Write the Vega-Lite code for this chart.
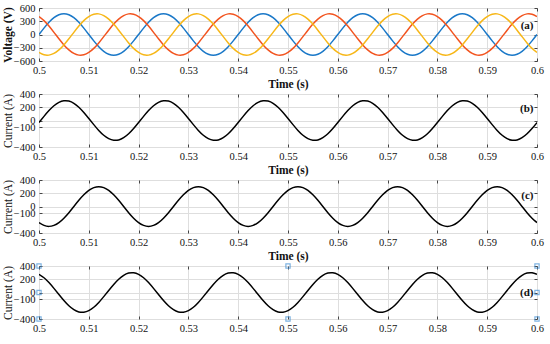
{
  "$schema": "https://vega.github.io/schema/vega-lite/v6.json",
  "padding": {"left": 1, "top": 2, "right": 4, "bottom": 0},
  "background": "white",
  "datasets": {
    "w": [
      {"t":0.5,"va":0,"vb":407,"vc":-407,"ib":-31,"ic":-243,"id":274},
      {"t":0.501,"va":145,"vb":315,"vc":-460,"ib":62,"ic":-285,"id":223},
      {"t":0.502,"va":276,"vb":191,"vc":-467,"ib":150,"ic":-300,"id":150},
      {"t":0.503,"va":380,"vb":49,"vc":-429,"ib":223,"ic":-285,"id":62},
      {"t":0.504,"va":447,"vb":-98,"vc":-349,"ib":274,"ic":-243,"id":-31},
      {"t":0.505,"va":470,"vb":-235,"vc":-235,"ib":298,"ic":-176,"id":-122},
      {"t":0.506,"va":447,"vb":-349,"vc":-98,"ib":293,"ic":-93,"id":-201},
      {"t":0.507,"va":380,"vb":-429,"vc":49,"ib":260,"ic":0,"id":-260},
      {"t":0.508,"va":276,"vb":-467,"vc":191,"ib":201,"ic":93,"id":-293},
      {"t":0.509,"va":145,"vb":-460,"vc":315,"ib":122,"ic":176,"id":-298},
      {"t":0.51,"va":0,"vb":-407,"vc":407,"ib":31,"ic":243,"id":-274},
      {"t":0.511,"va":-145,"vb":-315,"vc":460,"ib":-62,"ic":285,"id":-223},
      {"t":0.512,"va":-276,"vb":-191,"vc":467,"ib":-150,"ic":300,"id":-150},
      {"t":0.513,"va":-380,"vb":-49,"vc":429,"ib":-223,"ic":285,"id":-62},
      {"t":0.514,"va":-447,"vb":98,"vc":349,"ib":-274,"ic":243,"id":31},
      {"t":0.515,"va":-470,"vb":235,"vc":235,"ib":-298,"ic":176,"id":122},
      {"t":0.516,"va":-447,"vb":349,"vc":98,"ib":-293,"ic":93,"id":201},
      {"t":0.517,"va":-380,"vb":429,"vc":-49,"ib":-260,"ic":0,"id":260},
      {"t":0.518,"va":-276,"vb":467,"vc":-191,"ib":-201,"ic":-93,"id":293},
      {"t":0.519,"va":-145,"vb":460,"vc":-315,"ib":-122,"ic":-176,"id":298},
      {"t":0.52,"va":0,"vb":407,"vc":-407,"ib":-31,"ic":-243,"id":274},
      {"t":0.521,"va":145,"vb":315,"vc":-460,"ib":62,"ic":-285,"id":223},
      {"t":0.522,"va":276,"vb":191,"vc":-467,"ib":150,"ic":-300,"id":150},
      {"t":0.523,"va":380,"vb":49,"vc":-429,"ib":223,"ic":-285,"id":62},
      {"t":0.524,"va":447,"vb":-98,"vc":-349,"ib":274,"ic":-243,"id":-31},
      {"t":0.525,"va":470,"vb":-235,"vc":-235,"ib":298,"ic":-176,"id":-122},
      {"t":0.526,"va":447,"vb":-349,"vc":-98,"ib":293,"ic":-93,"id":-201},
      {"t":0.527,"va":380,"vb":-429,"vc":49,"ib":260,"ic":0,"id":-260},
      {"t":0.528,"va":276,"vb":-467,"vc":191,"ib":201,"ic":93,"id":-293},
      {"t":0.529,"va":145,"vb":-460,"vc":315,"ib":122,"ic":176,"id":-298},
      {"t":0.53,"va":0,"vb":-407,"vc":407,"ib":31,"ic":243,"id":-274},
      {"t":0.531,"va":-145,"vb":-315,"vc":460,"ib":-62,"ic":285,"id":-223},
      {"t":0.532,"va":-276,"vb":-191,"vc":467,"ib":-150,"ic":300,"id":-150},
      {"t":0.533,"va":-380,"vb":-49,"vc":429,"ib":-223,"ic":285,"id":-62},
      {"t":0.534,"va":-447,"vb":98,"vc":349,"ib":-274,"ic":243,"id":31},
      {"t":0.535,"va":-470,"vb":235,"vc":235,"ib":-298,"ic":176,"id":122},
      {"t":0.536,"va":-447,"vb":349,"vc":98,"ib":-293,"ic":93,"id":201},
      {"t":0.537,"va":-380,"vb":429,"vc":-49,"ib":-260,"ic":0,"id":260},
      {"t":0.538,"va":-276,"vb":467,"vc":-191,"ib":-201,"ic":-93,"id":293},
      {"t":0.539,"va":-145,"vb":460,"vc":-315,"ib":-122,"ic":-176,"id":298},
      {"t":0.54,"va":0,"vb":407,"vc":-407,"ib":-31,"ic":-243,"id":274},
      {"t":0.541,"va":145,"vb":315,"vc":-460,"ib":62,"ic":-285,"id":223},
      {"t":0.542,"va":276,"vb":191,"vc":-467,"ib":150,"ic":-300,"id":150},
      {"t":0.543,"va":380,"vb":49,"vc":-429,"ib":223,"ic":-285,"id":62},
      {"t":0.544,"va":447,"vb":-98,"vc":-349,"ib":274,"ic":-243,"id":-31},
      {"t":0.545,"va":470,"vb":-235,"vc":-235,"ib":298,"ic":-176,"id":-122},
      {"t":0.546,"va":447,"vb":-349,"vc":-98,"ib":293,"ic":-93,"id":-201},
      {"t":0.547,"va":380,"vb":-429,"vc":49,"ib":260,"ic":0,"id":-260},
      {"t":0.548,"va":276,"vb":-467,"vc":191,"ib":201,"ic":93,"id":-293},
      {"t":0.549,"va":145,"vb":-460,"vc":315,"ib":122,"ic":176,"id":-298},
      {"t":0.55,"va":0,"vb":-407,"vc":407,"ib":31,"ic":243,"id":-274},
      {"t":0.551,"va":-145,"vb":-315,"vc":460,"ib":-62,"ic":285,"id":-223},
      {"t":0.552,"va":-276,"vb":-191,"vc":467,"ib":-150,"ic":300,"id":-150},
      {"t":0.553,"va":-380,"vb":-49,"vc":429,"ib":-223,"ic":285,"id":-62},
      {"t":0.554,"va":-447,"vb":98,"vc":349,"ib":-274,"ic":243,"id":31},
      {"t":0.555,"va":-470,"vb":235,"vc":235,"ib":-298,"ic":176,"id":122},
      {"t":0.556,"va":-447,"vb":349,"vc":98,"ib":-293,"ic":93,"id":201},
      {"t":0.557,"va":-380,"vb":429,"vc":-49,"ib":-260,"ic":0,"id":260},
      {"t":0.558,"va":-276,"vb":467,"vc":-191,"ib":-201,"ic":-93,"id":293},
      {"t":0.559,"va":-145,"vb":460,"vc":-315,"ib":-122,"ic":-176,"id":298},
      {"t":0.56,"va":0,"vb":407,"vc":-407,"ib":-31,"ic":-243,"id":274},
      {"t":0.561,"va":145,"vb":315,"vc":-460,"ib":62,"ic":-285,"id":223},
      {"t":0.562,"va":276,"vb":191,"vc":-467,"ib":150,"ic":-300,"id":150},
      {"t":0.563,"va":380,"vb":49,"vc":-429,"ib":223,"ic":-285,"id":62},
      {"t":0.564,"va":447,"vb":-98,"vc":-349,"ib":274,"ic":-243,"id":-31},
      {"t":0.565,"va":470,"vb":-235,"vc":-235,"ib":298,"ic":-176,"id":-122},
      {"t":0.566,"va":447,"vb":-349,"vc":-98,"ib":293,"ic":-93,"id":-201},
      {"t":0.567,"va":380,"vb":-429,"vc":49,"ib":260,"ic":0,"id":-260},
      {"t":0.568,"va":276,"vb":-467,"vc":191,"ib":201,"ic":93,"id":-293},
      {"t":0.569,"va":145,"vb":-460,"vc":315,"ib":122,"ic":176,"id":-298},
      {"t":0.57,"va":0,"vb":-407,"vc":407,"ib":31,"ic":243,"id":-274},
      {"t":0.571,"va":-145,"vb":-315,"vc":460,"ib":-62,"ic":285,"id":-223},
      {"t":0.572,"va":-276,"vb":-191,"vc":467,"ib":-150,"ic":300,"id":-150},
      {"t":0.573,"va":-380,"vb":-49,"vc":429,"ib":-223,"ic":285,"id":-62},
      {"t":0.574,"va":-447,"vb":98,"vc":349,"ib":-274,"ic":243,"id":31},
      {"t":0.575,"va":-470,"vb":235,"vc":235,"ib":-298,"ic":176,"id":122},
      {"t":0.576,"va":-447,"vb":349,"vc":98,"ib":-293,"ic":93,"id":201},
      {"t":0.577,"va":-380,"vb":429,"vc":-49,"ib":-260,"ic":0,"id":260},
      {"t":0.578,"va":-276,"vb":467,"vc":-191,"ib":-201,"ic":-93,"id":293},
      {"t":0.579,"va":-145,"vb":460,"vc":-315,"ib":-122,"ic":-176,"id":298},
      {"t":0.58,"va":0,"vb":407,"vc":-407,"ib":-31,"ic":-243,"id":274},
      {"t":0.581,"va":145,"vb":315,"vc":-460,"ib":62,"ic":-285,"id":223},
      {"t":0.582,"va":276,"vb":191,"vc":-467,"ib":150,"ic":-300,"id":150},
      {"t":0.583,"va":380,"vb":49,"vc":-429,"ib":223,"ic":-285,"id":62},
      {"t":0.584,"va":447,"vb":-98,"vc":-349,"ib":274,"ic":-243,"id":-31},
      {"t":0.585,"va":470,"vb":-235,"vc":-235,"ib":298,"ic":-176,"id":-122},
      {"t":0.586,"va":447,"vb":-349,"vc":-98,"ib":293,"ic":-93,"id":-201},
      {"t":0.587,"va":380,"vb":-429,"vc":49,"ib":260,"ic":0,"id":-260},
      {"t":0.588,"va":276,"vb":-467,"vc":191,"ib":201,"ic":93,"id":-293},
      {"t":0.589,"va":145,"vb":-460,"vc":315,"ib":122,"ic":176,"id":-298},
      {"t":0.59,"va":0,"vb":-407,"vc":407,"ib":31,"ic":243,"id":-274},
      {"t":0.591,"va":-145,"vb":-315,"vc":460,"ib":-62,"ic":285,"id":-223},
      {"t":0.592,"va":-276,"vb":-191,"vc":467,"ib":-150,"ic":300,"id":-150},
      {"t":0.593,"va":-380,"vb":-49,"vc":429,"ib":-223,"ic":285,"id":-62},
      {"t":0.594,"va":-447,"vb":98,"vc":349,"ib":-274,"ic":243,"id":31},
      {"t":0.595,"va":-470,"vb":235,"vc":235,"ib":-298,"ic":176,"id":122},
      {"t":0.596,"va":-447,"vb":349,"vc":98,"ib":-293,"ic":93,"id":201},
      {"t":0.597,"va":-380,"vb":429,"vc":-49,"ib":-260,"ic":0,"id":260},
      {"t":0.598,"va":-276,"vb":467,"vc":-191,"ib":-201,"ic":-93,"id":293},
      {"t":0.599,"va":-145,"vb":460,"vc":-315,"ib":-122,"ic":-176,"id":298},
      {"t":0.6,"va":0,"vb":407,"vc":-407,"ib":-31,"ic":-243,"id":274}
    ]
  },
  "vconcat": [
    {
      "width": 498, "height": 53,
      "layer": [
        {
          "data": {"name": "w"},
          "transform": [{"fold": ["va", "vb", "vc"], "as": ["phase", "v"]}],
          "mark": {"type": "line", "interpolate": "natural", "strokeWidth": 1.5, "clip": true},
          "encoding": {
            "x": {"field": "t", "type": "quantitative", "scale": {"domain": [0.5, 0.6], "nice": false, "zero": false},
                  "axis": {"orient": "bottom", "values": [0.5,0.51,0.52,0.53,0.54,0.55,0.56,0.57,0.58,0.59,0.6], "format": ".2~f", "grid": true, "title": "Time (s)"}},
            "y": {"field": "v", "type": "quantitative", "scale": {"domain": [-600, 600], "nice": false},
                  "axis": {"orient": "left", "values": [-600,-300,0,300,600], "format": "d", "grid": true, "title": "Voltage (V)", "titleFontWeight": "bold"}},
            "color": {"field": "phase", "type": "nominal", "scale": {"domain": ["va","vb","vc"], "range": ["#1a78c8", "#f2541f", "#f7b718"]}, "legend": null}
          }
        },
        {
          "data": {"values": [{"t": 0.5993, "v": 192, "label": "(a)"}]},
          "mark": {"type": "text", "align": "right", "baseline": "middle", "fontWeight": "bold", "fontSize": 11, "font": "Liberation Serif", "color": "#111"},
          "encoding": {
            "x": {"field": "t", "type": "quantitative", "scale": {"domain": [0.5, 0.6], "nice": false, "zero": false},
                  "axis": {"orient": "top", "values": [0.5,0.51,0.52,0.53,0.54,0.55,0.56,0.57,0.58,0.59,0.6], "labels": false, "title": null}},
            "y": {"field": "v", "type": "quantitative", "scale": {"domain": [-600, 600], "nice": false},
                  "axis": {"orient": "right", "values": [-600,-300,0,300,600], "labels": false, "title": null}},
            "text": {"field": "label"}
          }
        }
      ],
      "resolve": {"axis": {"x": "independent", "y": "independent"}}
    },
    {
      "width": 498, "height": 53,
      "layer": [
        {
          "data": {"name": "w"},
          "mark": {"type": "line", "interpolate": "natural", "strokeWidth": 1.5, "color": "#000", "clip": true},
          "encoding": {
            "x": {"field": "t", "type": "quantitative", "scale": {"domain": [0.5, 0.6], "nice": false, "zero": false},
                  "axis": {"orient": "bottom", "values": [0.5,0.51,0.52,0.53,0.54,0.55,0.56,0.57,0.58,0.59,0.6], "format": ".2~f", "title": "Time (s)"}},
            "y": {"field": "ib", "type": "quantitative", "scale": {"domain": [-400, 400], "nice": false},
                  "axis": {"orient": "left", "values": [-400,-100,0,200,400], "format": "d", "title": "Current (A)"}}
          }
        },
        {
          "data": {"values": [{"t": 0.5993, "v": 170, "label": "(b)"}]},
          "mark": {"type": "text", "align": "right", "baseline": "middle", "fontWeight": "bold", "fontSize": 11, "font": "Liberation Serif", "color": "#111"},
          "encoding": {
            "x": {"field": "t", "type": "quantitative", "scale": {"domain": [0.5, 0.6], "nice": false, "zero": false},
                  "axis": {"orient": "top", "values": [0.5,0.51,0.52,0.53,0.54,0.55,0.56,0.57,0.58,0.59,0.6], "labels": false, "title": null}},
            "y": {"field": "v", "type": "quantitative", "scale": {"domain": [-400, 400], "nice": false},
                  "axis": {"orient": "right", "values": [-400,-100,0,200,400], "labels": false, "title": null}},
            "text": {"field": "label"}
          }
        }
      ],
      "resolve": {"axis": {"x": "independent", "y": "independent"}}
    },
    {
      "width": 498, "height": 53,
      "layer": [
        {
          "data": {"name": "w"},
          "mark": {"type": "line", "interpolate": "natural", "strokeWidth": 1.5, "color": "#000", "clip": true},
          "encoding": {
            "x": {"field": "t", "type": "quantitative", "scale": {"domain": [0.5, 0.6], "nice": false, "zero": false},
                  "axis": {"orient": "bottom", "values": [0.5,0.51,0.52,0.53,0.54,0.55,0.56,0.57,0.58,0.59,0.6], "format": ".2~f", "title": "Time (s)"}},
            "y": {"field": "ic", "type": "quantitative", "scale": {"domain": [-400, 400], "nice": false},
                  "axis": {"orient": "left", "values": [-400,-100,0,200,400], "format": "d", "title": "Current (A)"}}
          }
        },
        {
          "data": {"values": [{"t": 0.5993, "v": 158, "label": "(c)"}]},
          "mark": {"type": "text", "align": "right", "baseline": "middle", "fontWeight": "bold", "fontSize": 11, "font": "Liberation Serif", "color": "#111"},
          "encoding": {
            "x": {"field": "t", "type": "quantitative", "scale": {"domain": [0.5, 0.6], "nice": false, "zero": false},
                  "axis": {"orient": "top", "values": [0.5,0.51,0.52,0.53,0.54,0.55,0.56,0.57,0.58,0.59,0.6], "labels": false, "title": null}},
            "y": {"field": "v", "type": "quantitative", "scale": {"domain": [-400, 400], "nice": false},
                  "axis": {"orient": "right", "values": [-400,-100,0,200,400], "labels": false, "title": null}},
            "text": {"field": "label"}
          }
        }
      ],
      "resolve": {"axis": {"x": "independent", "y": "independent"}}
    },
    {
      "width": 498, "height": 53,
      "layer": [
        {
          "data": {"name": "w"},
          "mark": {"type": "line", "interpolate": "natural", "strokeWidth": 1.5, "color": "#000", "clip": true},
          "encoding": {
            "x": {"field": "t", "type": "quantitative", "scale": {"domain": [0.5, 0.6], "nice": false, "zero": false},
                  "axis": {"orient": "bottom", "values": [0.5,0.51,0.52,0.53,0.54,0.55,0.56,0.57,0.58,0.59,0.6], "format": ".2~f", "title": null}},
            "y": {"field": "id", "type": "quantitative", "scale": {"domain": [-400, 400], "nice": false},
                  "axis": {"orient": "left", "values": [-400,-100,0,200,400], "format": "d", "title": "Current (A)"}}
          }
        },
        {
          "data": {"values": [{"t": 0.5993, "v": 0, "label": "(d)"}]},
          "mark": {"type": "text", "align": "right", "baseline": "middle", "fontWeight": "bold", "fontSize": 11, "font": "Liberation Serif", "color": "#111"},
          "encoding": {
            "x": {"field": "t", "type": "quantitative", "scale": {"domain": [0.5, 0.6], "nice": false, "zero": false},
                  "axis": {"orient": "top", "values": [0.5,0.51,0.52,0.53,0.54,0.55,0.56,0.57,0.58,0.59,0.6], "labels": false, "title": null}},
            "y": {"field": "v", "type": "quantitative", "scale": {"domain": [-400, 400], "nice": false},
                  "axis": {"orient": "right", "values": [-400,-100,0,200,400], "labels": false, "title": null}},
            "text": {"field": "label"}
          }
        },
        {
          "data": {"values": [
            {"t": 0.5, "v": 400}, {"t": 0.5, "v": 0}, {"t": 0.5, "v": -400},
            {"t": 0.55, "v": 400}, {"t": 0.55, "v": -400},
            {"t": 0.6, "v": 400}, {"t": 0.6, "v": 0}, {"t": 0.6, "v": -400}
          ]},
          "mark": {"type": "point", "shape": "square", "size": 18, "filled": false, "stroke": "#4a94d6", "strokeWidth": 1.2, "clip": false},
          "encoding": {
            "x": {"field": "t", "type": "quantitative", "scale": {"domain": [0.5, 0.6], "nice": false, "zero": false}, "axis": null},
            "y": {"field": "v", "type": "quantitative", "scale": {"domain": [-400, 400], "nice": false}, "axis": null}
          }
        }
      ],
      "resolve": {"axis": {"x": "independent", "y": "independent"}}
    }
  ],
  "spacing": 33,
  "bounds": "flush",
  "config": {
    "view": {"stroke": "#7a7a7a", "strokeWidth": 1},
    "font": "Liberation Serif",
    "axis": {
      "labelFont": "Liberation Serif", "labelFontSize": 10.5, "labelColor": "#111",
      "titleFont": "Liberation Serif", "titleFontSize": 11.5, "titleColor": "#111", "titleFontWeight": "normal",
      "domain": false, "tickColor": "#444", "tickSize": -3, "tickWidth": 1,
      "labelPadding": 7, "labelFlush": false, "labelOverlap": false,
      "gridColor": "#dedede", "gridWidth": 1, "titlePadding": 3
    },
    "axisX": {"titleFontWeight": "bold", "titleFontSize": 11.5, "titlePadding": 3},
    "axisY": {"titlePadding": 0}
  }
}
